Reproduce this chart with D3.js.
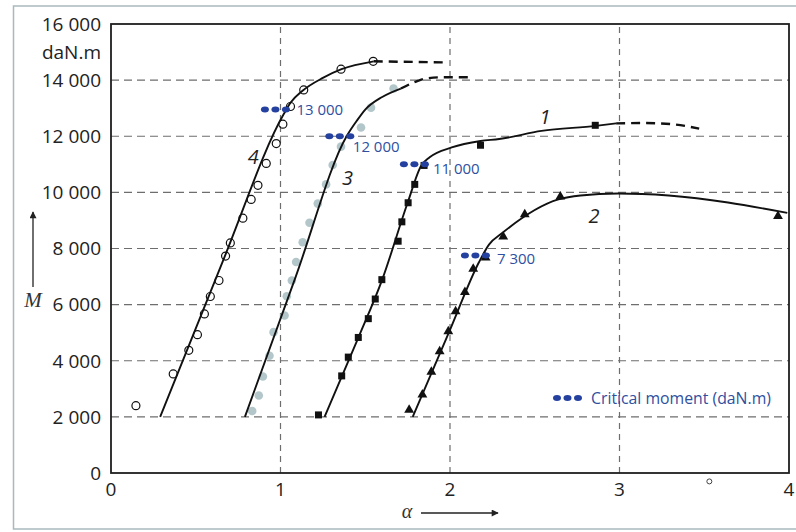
<!DOCTYPE html>
<html><head><meta charset="utf-8">
<script src="https://cdn.jsdelivr.net/npm/d3@7"></script>
<style>
html,body{margin:0;padding:0;background:#fff;}
svg{display:block;}
</style></head>
<body>
<script>
// ---------- data ----------
const xTicks = [0, 1, 2, 3, 4];
const yTicks = [0, 2000, 4000, 6000, 8000, 10000, 12000, 14000, 16000];
const yTickLabels = ["0", "2 000", "4 000", "6 000", "8 000", "10 000", "12 000", "14 000", "16 000"];
const yUnit = "daN.m";

// curve 4 (open circles)
const c4X = [0.147, 0.367, 0.459, 0.51, 0.551, 0.586, 0.637, 0.676, 0.704, 0.778, 0.827, 0.867, 0.916, 0.975, 1.014, 1.059, 1.137, 1.357, 1.547];
const c4Y = [2400, 3530, 4370, 4930, 5670, 6290, 6860, 7730, 8200, 9080, 9750, 10250, 11030, 11740, 12430, 13060, 13650, 14390, 14670];
const c4LineX = [0.29, 0.66, 1.02, 1.06, 1.13, 1.25, 1.36, 1.55];
const c4LineY = [2000, 7550, 12800, 13200, 13620, 14080, 14390, 14670];
const c4DashX = [1.55, 1.99];
const c4DashY = [14670, 14630];

// curve 3 (grey dots)
const c3X = [0.833, 0.872, 0.896, 0.935, 0.959, 1.024, 1.037, 1.067, 1.092, 1.131, 1.171, 1.22, 1.269, 1.308, 1.357, 1.475, 1.534, 1.667];
const c3Y = [2210, 2760, 3440, 4180, 5020, 5610, 6300, 6860, 7520, 8225, 8920, 9600, 10285, 10975, 11630, 12310, 13020, 13700];
const c3LineX = [0.79, 1.09, 1.39, 1.45, 1.50, 1.60, 1.71];
const c3LineY = [2000, 7000, 12000, 12550, 12950, 13400, 13700];
const c3DashX = [1.71, 1.80, 1.86, 1.95, 2.11];
const c3DashY = [13700, 13950, 14060, 14100, 14100];

// curve 1 (squares)
const c1X = [1.224, 1.361, 1.40, 1.459, 1.518, 1.559, 1.598, 1.694, 1.716, 1.753, 1.792, 1.847, 2.18, 2.857];
const c1Y = [2070, 3460, 4130, 4830, 5500, 6200, 6890, 8260, 8950, 9630, 10285, 10960, 11680, 12390];
const c1LineX = [1.26, 1.46, 1.60, 1.75, 1.83, 1.88, 2.01, 2.18, 2.29, 2.54, 2.86, 2.98];
const c1LineY = [2000, 4830, 6890, 9630, 10950, 11250, 11600, 11830, 11900, 12190, 12370, 12460];
const c1DashX = [2.98, 3.15, 3.31, 3.47];
const c1DashY = [12460, 12470, 12430, 12270];

// curve 2 (triangles)
const c2X = [1.759, 1.837, 1.89, 1.939, 1.99, 2.033, 2.088, 2.137, 2.21, 2.314, 2.441, 2.651, 3.935];
const c2Y = [2250, 2790, 3600, 4330, 5045, 5760, 6440, 7275, 7670, 8420, 9215, 9845, 9155];
const c2LineX = [1.78, 2.0, 2.17, 2.23, 2.31, 2.64, 2.77, 2.99, 3.29, 3.99];
const c2LineY = [2000, 5100, 7500, 8140, 8560, 9750, 9890, 9960, 9890, 9270];

// curve labels
const curveNames = ["4", "3", "1", "2"];
const curveNameX = [0.84, 1.396, 2.56, 2.85];
const curveNameY = [11285, 10535, 12680, 9180];

// critical moments
const critX = [0.97, 1.35, 1.79, 2.15];
const critY = [12950, 12000, 11000, 7750];
const critLabels = ["13 000", "12 000", "11 000", "7 300"];
const legendText = "Critical moment (daN.m)";
const strayX = [3.53];
const strayY = [-300];

// ---------- layout / style ----------
const W = 796, H = 532;
const critLabelDx = [21, 13, 18.5, 21.5];
const critLabelDy = [0, 10, 4, 3];
const blue = "#2541a0", blueText = "#2f4f9f";
const font = "'Open Sans', sans-serif";

const svg = d3.select("body").append("svg").attr("width", W).attr("height", H);

// outer scan border
svg.append("rect").attr("x", 13.5).attr("y", 6).attr("width", 800).attr("height", 523)
  .attr("fill", "none").attr("stroke", "#a9b9bd").attr("stroke-width", 1.5);

const x = d3.scaleLinear().domain([0, 4]).range([111, 789]);
const y = d3.scaleLinear().domain([0, 16000]).range([473, 24]);

// grid
const g = svg.append("g");
g.selectAll(".hg").data(yTicks.filter(v => v > 0 && v < 16000)).join("line")
  .attr("x1", x(0)).attr("x2", x(4)).attr("y1", d => y(d)).attr("y2", d => y(d))
  .attr("stroke", "#6e6e6e").attr("stroke-width", 1.2).attr("stroke-dasharray", "8,5");
g.selectAll(".vg").data(xTicks.filter(v => v > 0 && v < 4)).join("line")
  .attr("x1", d => x(d)).attr("x2", d => x(d)).attr("y1", y(0)).attr("y2", y(16000))
  .attr("stroke", "#6e6e6e").attr("stroke-width", 1.2).attr("stroke-dasharray", "6,5");

// frame
svg.append("rect").attr("x", x(0)).attr("y", y(16000)).attr("width", x(4) - x(0)).attr("height", y(0) - y(16000))
  .attr("fill", "none").attr("stroke", "#1e1e1e").attr("stroke-width", 1.8);

// y tick labels
svg.selectAll(".yt").data(yTicks).join("text")
  .attr("x", 101).attr("y", d => y(d)).attr("dy", "0.36em")
  .attr("text-anchor", "end").attr("font-family", font).attr("font-size", 19).attr("fill", "#222")
  .text((d, i) => yTickLabels[i]);
svg.append("text").attr("x", 101).attr("y", y(15000)).attr("dy", "0.36em")
  .attr("text-anchor", "end").attr("font-family", font).attr("font-size", 19).attr("fill", "#222").text(yUnit);

// x tick labels
svg.selectAll(".xt").data(xTicks).join("text")
  .attr("x", d => x(d)).attr("y", 496)
  .attr("text-anchor", "middle").attr("font-family", font).attr("font-size", 19).attr("fill", "#222")
  .text(d => d);

// axis names with arrows
const defs = svg.append("defs");
defs.append("marker").attr("id", "ah").attr("viewBox", "0 0 10 10").attr("refX", 9).attr("refY", 5)
  .attr("markerWidth", 10).attr("markerHeight", 7).attr("markerUnits", "userSpaceOnUse").attr("orient", "auto")
  .append("path").attr("d", "M0,0 L10,5 L0,10 Z").attr("fill", "#222");
svg.append("line").attr("x1", 33).attr("x2", 33).attr("y1", 287).attr("y2", 212)
  .attr("stroke", "#222").attr("stroke-width", 1.3).attr("marker-end", "url(#ah)");
svg.append("text").attr("x", 33).attr("y", 307).attr("text-anchor", "middle")
  .attr("font-family", "'Liberation Serif', serif").attr("font-style", "italic").attr("font-size", 21).attr("fill", "#333").text("M");
svg.append("text").attr("x", 407).attr("y", 518).attr("text-anchor", "middle")
  .attr("font-family", "'Liberation Serif', serif").attr("font-style", "italic").attr("font-size", 20).attr("fill", "#333").text("α");
svg.append("line").attr("x1", 421).attr("x2", 498).attr("y1", 513).attr("y2", 513)
  .attr("stroke", "#222").attr("stroke-width", 1.3).attr("marker-end", "url(#ah)");

const zip = (a, b) => a.map((v, i) => [v, b[i]]);
const line = d3.line().x(d => x(d[0])).y(d => y(d[1])).curve(d3.curveMonotoneX);

// curve 3 markers under line
svg.append("g").selectAll("circle").data(zip(c3X, c3Y)).join("circle")
  .attr("cx", d => x(d[0])).attr("cy", d => y(d[1])).attr("r", 4.3).attr("fill", "#b3c7cb");

// solid lines
[[c4LineX, c4LineY], [c3LineX, c3LineY], [c1LineX, c1LineY], [c2LineX, c2LineY]].forEach(([lx, ly]) => {
  svg.append("path").datum(zip(lx, ly)).attr("d", line)
    .attr("fill", "none").attr("stroke", "#111").attr("stroke-width", 1.9);
});
// dashed extensions
[[c4DashX, c4DashY], [c3DashX, c3DashY], [c1DashX, c1DashY]].forEach(([lx, ly]) => {
  svg.append("path").datum(zip(lx, ly)).attr("d", line)
    .attr("fill", "none").attr("stroke", "#111").attr("stroke-width", 2.4).attr("stroke-dasharray", "9,6");
});

// curve 4 markers
svg.append("g").selectAll("circle").data(zip(c4X, c4Y)).join("circle")
  .attr("cx", d => x(d[0])).attr("cy", d => y(d[1])).attr("r", 4)
  .attr("fill", "none").attr("stroke", "#111").attr("stroke-width", 1.2);
// stray small circle
svg.append("g").selectAll("circle").data(zip(strayX, strayY)).join("circle")
  .attr("cx", d => x(d[0])).attr("cy", d => y(d[1])).attr("r", 2.5)
  .attr("fill", "none").attr("stroke", "#444").attr("stroke-width", 1);

// curve 1 squares
svg.append("g").selectAll("rect").data(zip(c1X, c1Y)).join("rect")
  .attr("x", d => x(d[0]) - 3.5).attr("y", d => y(d[1]) - 3.5).attr("width", 7).attr("height", 7).attr("fill", "#111");

// curve 2 triangles
const tri = d3.symbol().type(d3.symbolTriangle).size(42);
svg.append("g").selectAll("path").data(zip(c2X, c2Y)).join("path")
  .attr("transform", d => `translate(${x(d[0])},${y(d[1])})`).attr("d", tri).attr("fill", "#111");

// curve names
svg.selectAll(".cn").data(curveNames).join("text")
  .attr("x", (d, i) => x(curveNameX[i])).attr("y", (d, i) => y(curveNameY[i])).attr("dy", "0.36em")
  .attr("text-anchor", "middle").attr("font-family", font).attr("font-style", "italic")
  .attr("font-size", 20).attr("fill", "#222").text(d => d);

// critical moments
critX.forEach((cx, i) => {
  const gy = y(critY[i]);
  [-10.5, 0, 10.5].forEach(off => {
    svg.append("ellipse").attr("cx", x(cx) + off).attr("cy", gy).attr("rx", 4).attr("ry", 3).attr("fill", blue);
  });
  svg.append("text").attr("x", x(cx) + critLabelDx[i]).attr("y", gy + critLabelDy[i]).attr("dy", "0.36em")
    .attr("font-family", font).attr("font-size", 15).attr("fill", blueText).text(critLabels[i]);
});

// legend
[557, 567.5, 578].forEach(px => {
  svg.append("ellipse").attr("cx", px).attr("cy", 398).attr("rx", 4).attr("ry", 3).attr("fill", blue);
});
svg.append("text").attr("x", 591).attr("y", 398).attr("dy", "0.36em")
  .attr("font-family", font).attr("font-size", 15.8).attr("fill", blueText).text(legendText);
</script>
</body></html>
